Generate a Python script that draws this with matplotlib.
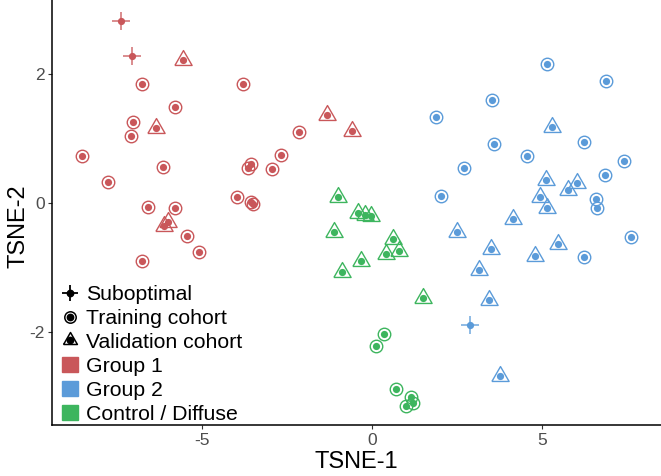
import numpy as np
import matplotlib
matplotlib.use("Agg")
import matplotlib.pyplot as plt
from matplotlib.lines import Line2D
from matplotlib.patches import Patch
from matplotlib.legend_handler import HandlerTuple

plt.rcParams['font.family'] = ['Liberation Sans', 'DejaVu Sans']
plt.rcParams['axes.unicode_minus'] = False

# colours of the three groups
RED = '#C9575A'
BLUE = '#5B9BD9'
GREEN = '#3DB55E'

# Group 1
g1_train_x = [-6.77, -3.78, -5.79, -7.02, -7.09, -2.15, -8.54, -6.16, -7.75, -2.67, -3.56,
              -3.64, -2.93, -3.97, -3.56, -3.49, -6.60, -5.78, -5.45, -5.08, -6.77]
g1_train_y = [1.84, 1.84, 1.48, 1.26, 1.03, 1.10, 0.73, 0.56, 0.32, 0.74, 0.61,
              0.54, 0.52, 0.10, 0.01, -0.02, -0.06, -0.08, -0.51, -0.75, -0.89]
g1_valid_x = [-5.57, -6.35, -1.33, -0.58, -5.99, -6.11]
g1_valid_y = [2.22, 1.16, 1.36, 1.11, -0.29, -0.36]
g1_subopt_x = [-7.37, -7.05]
g1_subopt_y = [2.82, 2.27]

# Group 2
g2_train_x = [5.14, 6.89, 3.53, 1.87, 6.23, 3.58, 4.57, 7.41, 2.71, 6.85, 2.02, 6.59, 6.63, 7.62, 6.24]
g2_train_y = [2.15, 1.89, 1.59, 1.33, 0.94, 0.91, 0.73, 0.65, 0.55, 0.44, 0.11, 0.06, -0.08, -0.52, -0.83]
g2_valid_x = [5.30, 5.12, 6.04, 5.77, 4.94, 5.14, 4.16, 2.51, 3.49, 5.48, 4.78, 3.16, 3.45, 3.76]
g2_valid_y = [1.17, 0.36, 0.31, 0.20, 0.10, -0.08, -0.25, -0.45, -0.71, -0.63, -0.82, -1.04, -1.50, -2.68]
g2_subopt_x = [2.88]
g2_subopt_y = [-1.88]

# Control / Diffuse
ctl_train_x = [0.36, 0.13, 0.70, 1.15, 1.22, 1.00]
ctl_train_y = [-2.03, -2.21, -2.87, -3.00, -3.09, -3.14]
ctl_valid_x = [-0.99, -0.42, -0.21, -0.03, -1.12, 0.61, 0.80, 0.40, -0.32, -0.87, 1.51]
ctl_valid_y = [0.09, -0.16, -0.19, -0.20, -0.45, -0.55, -0.74, -0.78, -0.90, -1.06, -1.46]

legend_labels = ['Suboptimal', 'Training cohort', 'Validation cohort',
                 'Group 1', 'Group 2', 'Control / Diffuse']

# equilateral triangle centred on its centroid
TRI = [(-1, -0.577), (1, -0.577), (0, 1.155), (-1, -0.577)]

DOT_MS = 5.2
RING = dict(marker='o', ms=9.0, mfc='none', mew=1.0, ls='none')
TRIANGLE = dict(marker=TRI, ms=14.3, mfc='none', mew=1.0, ls='none')
CROSS = dict(marker='+', ms=13.5, mew=1.2, ls='none')

fig = plt.figure(figsize=(6.61, 4.76), dpi=100)
ax = fig.add_axes([52 / 661, 1 - 425 / 476, 609 / 661, 425 / 476])

groups = [
    (RED, g1_train_x, g1_train_y, g1_valid_x, g1_valid_y, g1_subopt_x, g1_subopt_y),
    (BLUE, g2_train_x, g2_train_y, g2_valid_x, g2_valid_y, g2_subopt_x, g2_subopt_y),
    (GREEN, ctl_train_x, ctl_train_y, ctl_valid_x, ctl_valid_y, [], []),
]

for col, tx, ty, vx, vy, sx, sy in groups:
    ax.plot(tx, ty, mec=col, **RING)
    ax.plot(vx, vy, mec=col, **TRIANGLE)
    if sx:
        ax.plot(sx, sy, mec=col, alpha=0.8, **CROSS)
    ax.plot(tx + vx + sx, ty + vy + sy, 'o', ms=DOT_MS, color=col, mec='none', ls='none')

ax.set_xlim(-9.41, 8.5)
ax.set_ylim(-3.43, 3.14)
ax.set_xticks([-5, 0, 5])
ax.set_yticks([-2, 0, 2])

for s in ['top', 'right']:
    ax.spines[s].set_visible(False)
for s in ['left', 'bottom']:
    ax.spines[s].set_linewidth(1.1)
    ax.spines[s].set_color('black')

ax.tick_params(axis='both', length=3, width=0.8, color='#333333',
               labelsize=12.5, labelcolor='#4D4D4D')
ax.tick_params(axis='x', pad=3)
ax.tick_params(axis='y', pad=2)

ax.set_xlabel('TSNE-1', fontsize=17, color='black', labelpad=2)
ax.set_ylabel('TSNE-2', fontsize=17, color='black')
ax.yaxis.set_label_coords(-0.037, 0.468)

# legend: small black symbols, overlaid dot + outline
dot = Line2D([], [], marker='o', ms=4.6, color='black', ls='none')
handles = [
    (Line2D([], [], color='black', marker='+', ms=11, mew=1.3, ls='none'), dot),
    (Line2D([], [], mec='black', marker='o', ms=8.2, mfc='none', mew=1.1, ls='none'), dot),
    (Line2D([], [], mec='black', marker=TRI, ms=11.5, mfc='none', mew=1.1, ls='none'), dot),
    Patch(color=RED), Patch(color=BLUE), Patch(color=GREEN),
]
ax.legend(handles, legend_labels, loc='lower left', bbox_to_anchor=(0.0, -0.019),
          frameon=False, fontsize=15.3, handlelength=0.75, handleheight=0.7,
          handletextpad=0.42, labelspacing=0.23, borderpad=0.25, borderaxespad=0.2,
          handler_map={tuple: HandlerTuple(ndivide=1)})

fig.savefig('out.png', dpi=100)
